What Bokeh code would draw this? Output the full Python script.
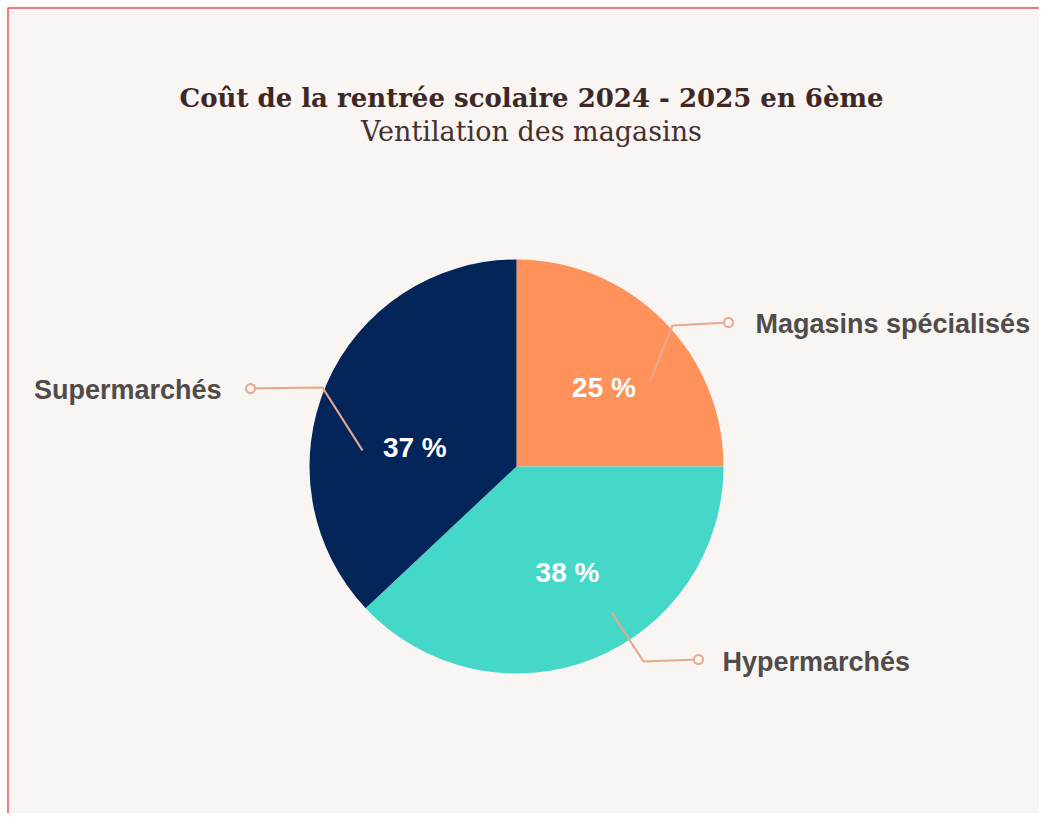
import numpy as np
from bokeh.plotting import figure
from bokeh.models import Range1d, ColumnDataSource
from bokeh.core.properties import value
from bokeh.embed import file_html
from bokeh.resources import INLINE

# ---- data ----
categories = ["Magasins spécialisés", "Hypermarchés", "Supermarchés"]
shares = [25, 38, 37]
colors = ["#FE925A", "#45D7C8", "#03255A"]
title_text = "Coût de la rentrée scolaire 2024 - 2025 en 6ème"
subtitle_text = "Ventilation des magasins"

W, H = 1039, 813
BG = "#F9F5F2"
L0, T0 = 6, 6

p = figure(width=W, height=H, output_backend="svg", toolbar_location=None,
           x_range=Range1d(L0, W), y_range=Range1d(-H, -T0),
           min_border_left=L0, min_border_top=T0,
           min_border_right=0, min_border_bottom=0)
p.xaxis.visible = False
p.yaxis.visible = False
p.grid.visible = False
p.background_fill_color = BG
p.border_fill_color = "white"
p.outline_line_color = None

def X(px):
    return px

def Y(py):
    return -py

# red left/top border of the card
p.line([X(7.5), X(7.5), X(W)], [Y(H), Y(7.5), Y(7.5)],
       line_color="#E8545A", line_width=1.5)

cx, cy, R = X(516), Y(466), 207

# angles: start at top, go clockwise
vals = np.array(shares, dtype=float)
frac = vals / vals.sum()
ends_cw = np.cumsum(frac) * 2 * np.pi
starts_cw = np.concatenate([[0], ends_cw[:-1]])
start_angle = np.pi / 2 - ends_cw
end_angle = np.pi / 2 - starts_cw
mid = (start_angle + end_angle) / 2

src = ColumnDataSource(dict(start=start_angle, end=end_angle, color=colors))
p.wedge(x=cx, y=cy, radius=R, start_angle="start", end_angle="end",
        fill_color="color", line_color=None, source=src)

# leader lines (salmon) with small open circles
LC = "#E8A88E"
leaders = [
    [(650, 380), (672, 325), (728, 322)],
    [(362, 450), (322, 387), (250, 388)],
    [(611, 612), (643, 661), (698, 659)],
]
for pts in leaders:
    xs = [X(a) for a, b in pts]
    ys = [Y(b) for a, b in pts]
    p.line(xs, ys, line_color=LC, line_width=2.2)
    p.scatter([xs[-1]], [ys[-1]], size=9, marker="circle",
              fill_color=BG, line_color=LC, line_width=2)

# percentage labels
pct_r = [0.57, 0.57, 0.50]
ang_adj = [-0.05, 0.07, 0.22]
lx = [cx + R * r * np.cos(m + a) for r, m, a in zip(pct_r, mid, ang_adj)]
ly = [cy + R * r * np.sin(m + a) for r, m, a in zip(pct_r, mid, ang_adj)]
p.text(x=lx, y=ly, text=[f"{s} %" for s in shares],
       text_color="white", text_font=value("Liberation Sans"),
       text_font_style="bold", text_font_size="28px",
       text_align="center", text_baseline="middle")

# category labels
LBL = "#4F4C4B"
p.text(x=[X(755), X(722)], y=[Y(323), Y(661)], text=[categories[0], categories[1]],
       text_color=LBL, text_font=value("Liberation Sans"),
       text_font_style="bold", text_font_size="27px",
       text_align="left", text_baseline="middle")
p.text(x=[X(221)], y=[Y(389)], text=[categories[2]],
       text_color=LBL, text_font=value("Liberation Sans"),
       text_font_style="bold", text_font_size="27px",
       text_align="right", text_baseline="middle")

# title & subtitle
p.text(x=[X(531)], y=[Y(97)], text=[title_text],
       text_color="#3E2826", text_font=value("DejaVu Serif"),
       text_font_style="bold", text_font_size="26px",
       text_align="center", text_baseline="middle")
p.text(x=[X(531)], y=[Y(131)], text=[subtitle_text],
       text_color="#45302E", text_font=value("DejaVu Serif"),
       text_font_size="27px",
       text_align="center", text_baseline="middle")

open("out.html", "w").write(file_html(p, INLINE))
